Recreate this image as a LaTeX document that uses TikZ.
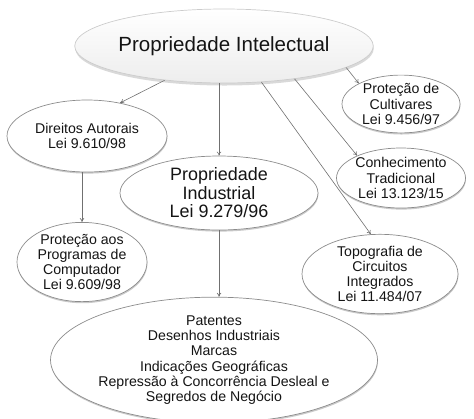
\documentclass[tikz,border=0pt]{standalone}
\usepackage{fontspec}
\setmainfont{Liberation Sans}
\usetikzlibrary{shapes.geometric,arrows.meta,shadows}
\definecolor{txt}{HTML}{141414}
\definecolor{edge}{HTML}{8C8C8C}
\definecolor{arrowc}{HTML}{707070}
\tikzset{
  bub/.style={ellipse, draw=edge, line width=0.7bp, fill=white, inner sep=0pt,
    align=center, text=txt, font=\fontsize{14.2}{15.3}\selectfont,
    drop shadow={shadow xshift=0.4bp, shadow yshift=-1.6bp, opacity=0.35, fill=black!60}},
  topbub/.style={ellipse, draw=gray!40, line width=0.7bp, top color=white, bottom color=gray!14,
    inner sep=0pt, align=center, text=txt, font=\fontsize{20.6}{22}\selectfont,
    drop shadow={shadow xshift=0.5bp, shadow yshift=-2.5bp, opacity=0.3, fill=black!50}},
  arr/.style={draw=arrowc, line width=0.6bp, -{To[length=4bp,width=4.5bp]}}
}
\begin{document}
\begin{tikzpicture}[x=1bp,y=-1bp]
\useasboundingbox (0,0) rectangle (474,418);
\node[topbub, minimum width=248bp, minimum height=74bp] (top) at (224,46) {Propriedade Intelectual};
\node[bub, minimum width=160bp, minimum height=72bp] (dir) at (87,136) {Direitos Autorais\\Lei 9.610/98};
\node[bub, minimum width=130bp, minimum height=72bp] (prog) at (82,262) {Proteção aos\\Programas de\\Computador\\Lei 9.609/98};
\node[bub, minimum width=198bp, minimum height=74bp, font=\fontsize{18}{18.5}\selectfont] (ind) at (219,193) {Propriedade\\Industrial\\Lei 9.279/96};
\node[bub, minimum width=118bp, minimum height=56bp] (cult) at (401,104) {Proteção de\\Cultivares\\Lei 9.456/97};
\node[bub, minimum width=118bp, minimum height=60bp] (con) at (401,178) {Conhecimento\\Tradicional\\Lei 13.123/15};
\node[bub, minimum width=156bp, minimum height=68bp] (topo) at (380,274) {Topografia de\\Circuitos\\Integrados\\Lei 11.484/07};
\node[bub, minimum width=257bp, minimum height=112bp] (bot) at (214,360) {Patentes\\Desenhos Industriais\\Marcas\\Indicações Geográficas\\Repressão à Concorrência Desleal e\\Segredos de Negócio};
\draw[arr] (top.210) -- (dir.45);
\draw[arr] (top.south -| ind.north) -- (ind.north);
\draw[arr] (top.350) -- (cult.154);
\draw[arr] (top.335) -- (con.153);
\draw[arr] (top.316) -- (topo.103);
\draw[arr] (dir.south -| prog.north) -- (prog.north);
\draw[arr] (ind.south) -- (ind.south |- bot.north);
\end{tikzpicture}
\end{document}
